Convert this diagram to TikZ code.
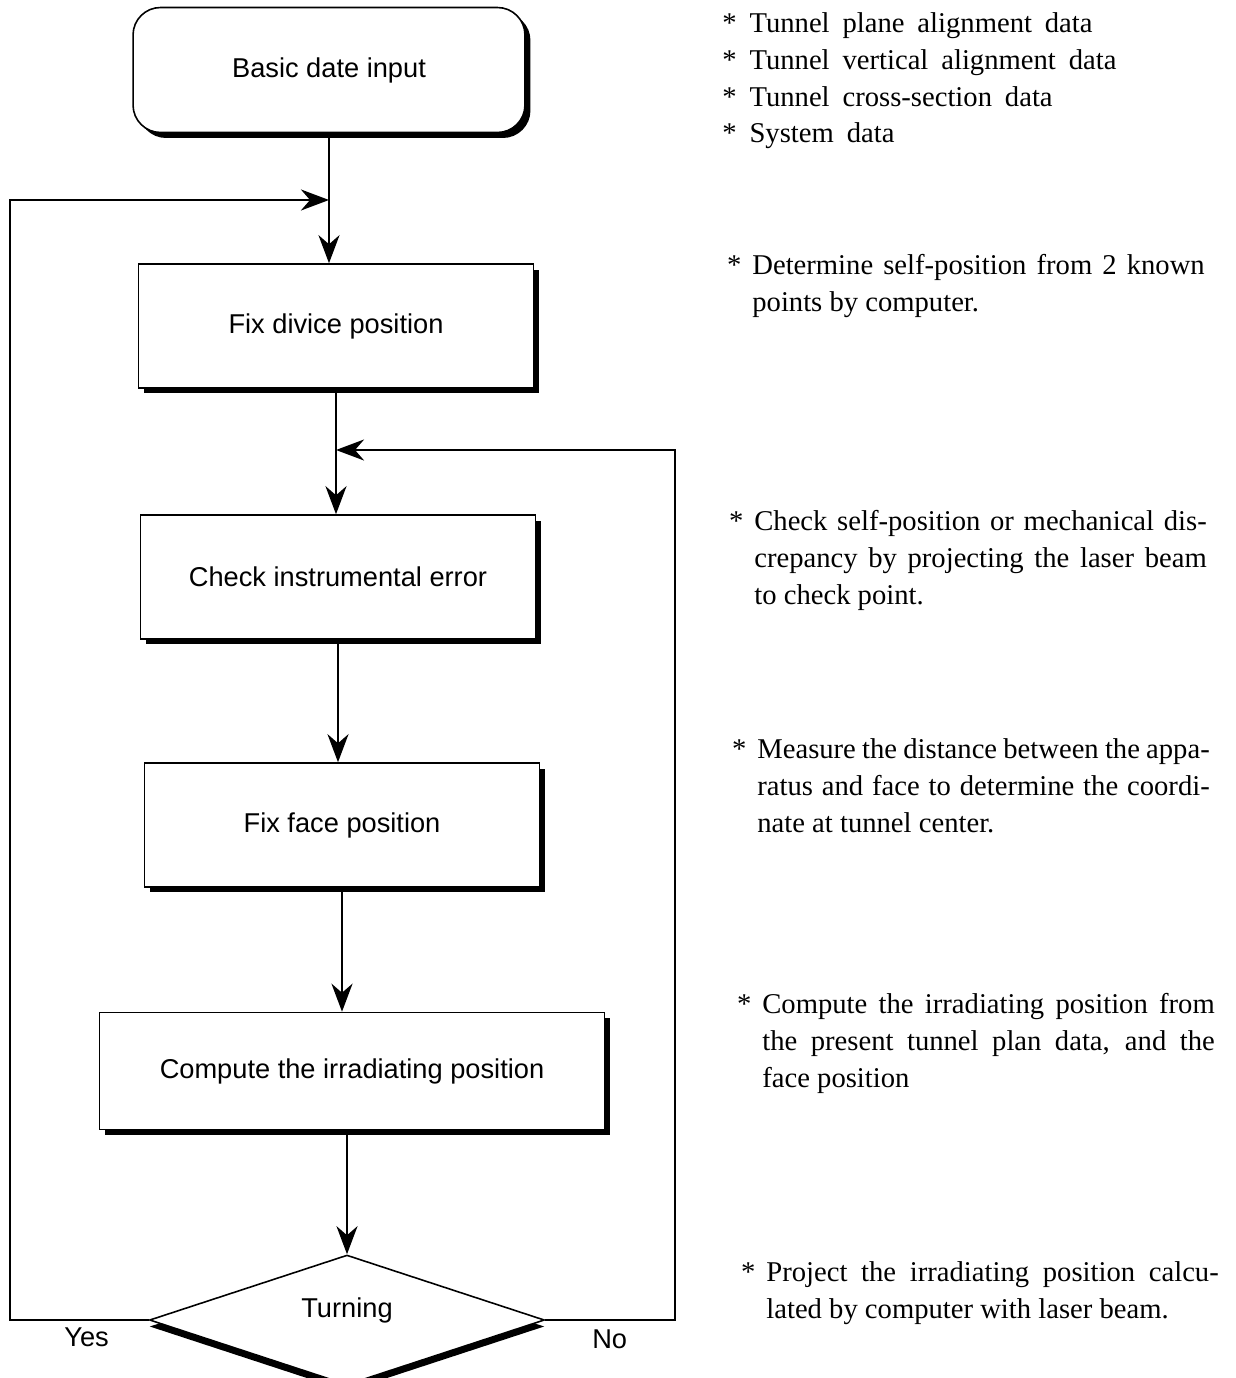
\documentclass[tikz,border=0pt]{standalone}
\usepackage{fontspec}
\setmainfont{Liberation Serif}
\setsansfont{Liberation Sans}
\usetikzlibrary{positioning,shapes.geometric,shadows,arrows.meta}
\newcommand{\boxfont}{\sffamily\fontsize{15.5}{18}\selectfont}
\newcommand{\notefont}{\fontsize{16.3}{21}\selectfont}
\newcommand{\notemark}{\leavevmode\llap{*\hspace{0.22cm}}}
\newcommand{\widespace}{\spaceskip=0.45em\relax}

\begin{document}
\begin{tikzpicture}[x=0.02cm, y=-0.02cm,
    stepbox/.style={draw, fill=white, line width=0.9pt, minimum width=7.9cm,
      minimum height=2.48cm, font=\boxfont,
      drop shadow={shadow xshift=0.11cm, shadow yshift=-0.11cm, opacity=1, fill=black}},
    turnbox/.style={shape=diamond, draw, fill=white, line width=0.9pt, inner sep=0pt,
      minimum width=7.9cm, minimum height=2.6cm, font=\boxfont,
      drop shadow={shadow xshift=0cm, shadow yshift=-0.13cm, opacity=1, fill=black}},
    note/.style={anchor=north west, inner sep=0pt, font=\notefont},
    para/.style={note, text width=9.05cm, align=justify},
    lab/.style={inner sep=0pt, outer sep=0pt, font=\boxfont},
    arr/.style={line width=1.1pt, -{Stealth[length=16pt, width=12pt]}}]
  \useasboundingbox (0,0) rectangle (1235,1378);

  % flow boxes
  \node [stepbox, rounded corners=0.55cm, minimum width=7.84cm, minimum height=2.5cm] (b1) at (329,70) {Basic date input};
  \node [stepbox] (b2) at (336,326) {Fix divice position};
  \node [stepbox] (b3) at (338,577) {Check instrumental error};
  \node [stepbox] (b4) at (342,825) {Fix face position};
  \node [stepbox, minimum width=10.1cm, minimum height=2.34cm] (b5) at (352,1071) {Compute the irradiating position};
  \node [turnbox] (t) at (347,1320) {\raisebox{0.06cm}[0pt][0pt]{Turning}};

  \node [lab, below left=0.15cm and 0.8cm of t.west] (y) {Yes};
  \node [lab, below right=0.2cm and 0.94cm of t.east] (n) {No};

  \coordinate (j1) at (329,200);
  \coordinate (j2) at (336,450);
  \coordinate (l) at (10,200);
  \coordinate (r) at (675,450);

  \draw [line width=1.1pt] (b1.south) -- (j1);
  \draw [arr] (j1) -- (b1.south |- b2.north);
  \draw [line width=1.1pt] (b2.south) -- (j2);
  \draw [arr] (j2) -- (b2.south |- b3.north);
  \draw [arr] (b3.south) -- (b3.south |- b4.north);
  \draw [arr] (b4.south) -- (b4.south |- b5.north);
  \draw [arr] (t.north |- b5.south) -- (t.north);

  % loops back
  \draw [arr] (t.west) -| (l) -- (j1);
  \draw [arr] (t.east) -| (r) -- (j2);

  % notes
  \node [note, text width=9cm] (n1) at (722,12) {\widespace * Tunnel plane alignment data\newline
    * Tunnel vertical alignment data\newline
    * Tunnel cross-section data\newline
    * System data};
  \node [para] (n2) at (752,254) {\notemark Determine self-position from 2 known\linebreak points by computer.};
  \node [para] (n3) at (754,510) {\notemark Check self-position or mechanical dis-\linebreak crepancy by projecting the laser beam\linebreak to check point.};
  \node [para] (n4) at (757,738) {\notemark Measure the distance between the appa-\linebreak ratus and face to determine the coordi-\linebreak nate at tunnel center.};
  \node [para] (n5) at (762,993) {\notemark Compute the irradiating position from\linebreak the present tunnel plan data, and the\linebreak face position};
  \node [para] (n6) at (766,1261) {\notemark Project the irradiating position calcu-\linebreak lated by computer with laser beam.};
\end{tikzpicture}
\end{document}
